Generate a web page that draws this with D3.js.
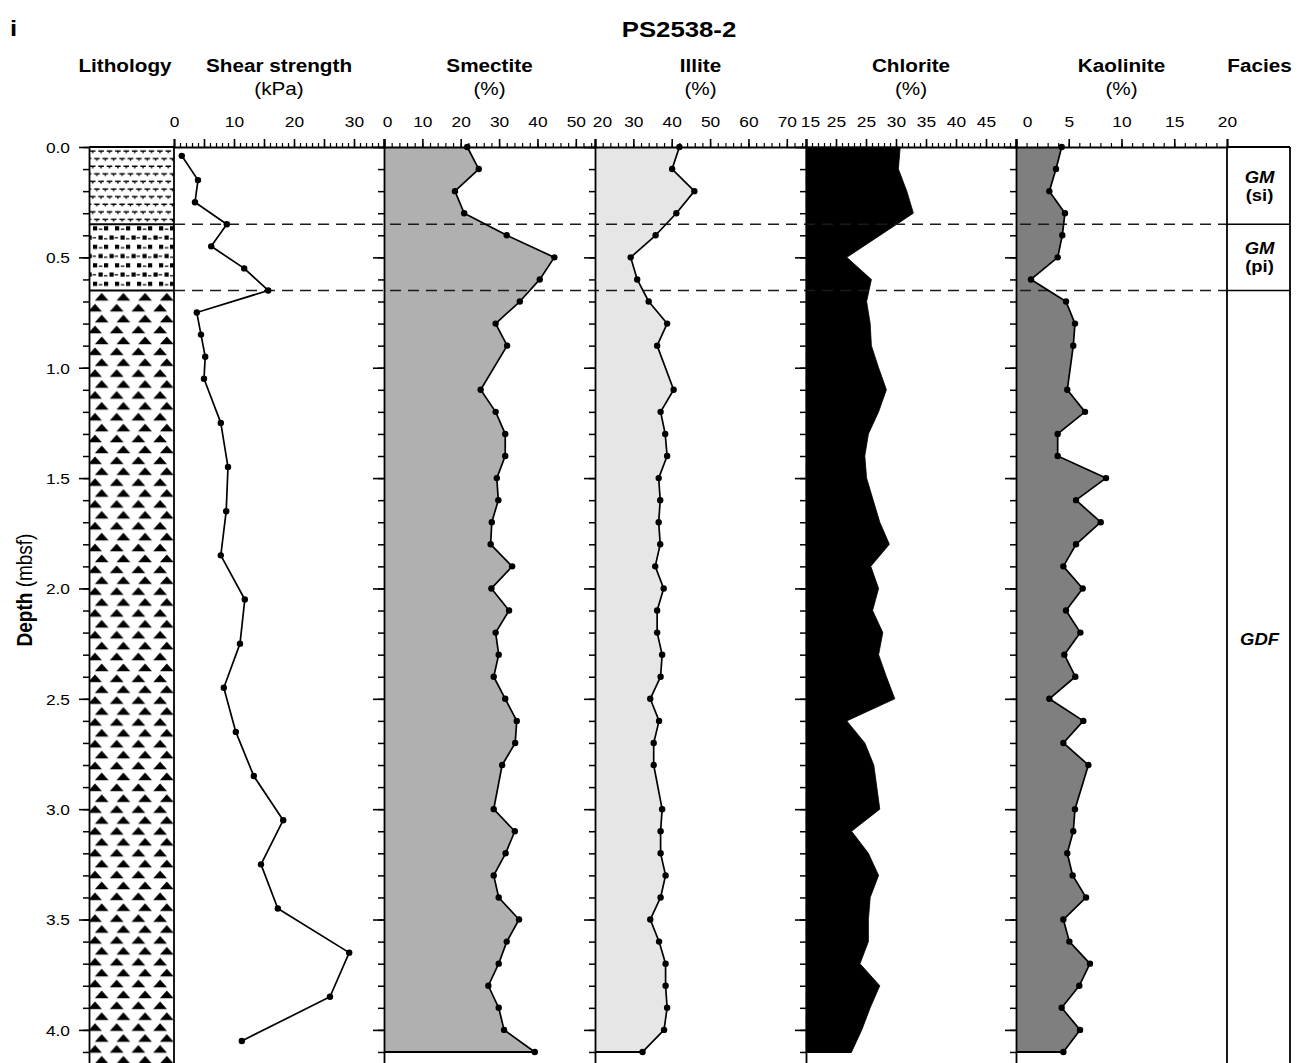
<!DOCTYPE html>
<html><head><meta charset="utf-8">
<script src="https://cdn.jsdelivr.net/npm/d3@7"></script>
<style>
body{margin:0;background:#fff;}
svg{display:block;}
text{font-family:"Liberation Sans",Arial,Helvetica,sans-serif;fill:#000;}
</style></head><body>
<svg id="chart" width="1303" height="1063"></svg>
<script>
// ---------------- DATA ----------------
const figureLetter = "i";
const coreName = "PS2538-2";
const columnTitles = ["Lithology","Shear strength","Smectite","Illite","Chlorite","Kaolinite","Facies"];
const columnUnits  = ["","(kPa)","(%)","(%)","(%)","(%)",""];

const shearDepths = [0.04,0.15,0.25,0.35,0.45,0.55,0.65,0.75,0.85,0.95,1.05,1.25,1.45,1.65,1.85,2.05,2.25,2.45,2.65,2.85,3.05,3.25,3.45,3.65,3.85,4.05];
const shearStrength = [1.3,4.0,3.5,8.8,6.2,11.7,15.7,3.8,4.5,5.2,5.0,7.8,9.0,8.7,7.8,11.8,11.0,8.3,10.3,13.3,18.2,14.5,17.3,29.2,26.0,11.3];

const clayDepths = [0.0,0.1,0.2,0.3,0.4,0.5,0.6,0.7,0.8,0.9,1.1,1.2,1.3,1.4,1.5,1.6,1.7,1.8,1.9,2.0,2.1,2.2,2.3,2.4,2.5,2.6,2.7,2.8,3.0,3.1,3.2,3.3,3.4,3.5,3.6,3.7,3.8,3.9,4.0,4.1];
const smectite = [21.7,24.7,18.5,20.9,32.0,44.4,40.6,35.4,29.1,32.1,25.2,29.1,31.6,31.6,29.4,29.8,28.1,27.8,33.4,28.0,32.6,29.1,29.9,28.6,31.6,34.6,34.2,30.8,28.6,34.1,31.7,28.6,29.9,35.2,32.0,29.9,27.2,29.9,31.3,39.3];
const illite = [42.0,40.1,45.9,41.2,35.8,29.3,31.0,34.0,38.8,36.2,40.5,37.1,38.3,38.8,36.6,37.0,36.6,37.0,35.7,37.9,36.2,36.2,37.5,37.1,34.4,36.7,35.3,35.3,37.5,37.1,37.1,38.4,37.1,34.4,36.7,38.4,38.4,38.8,38.0,32.4];
const kaolinite = [4.33,3.79,3.16,4.64,4.39,3.95,1.42,4.74,5.59,5.43,4.86,6.54,3.95,3.95,8.53,5.69,8.03,5.69,4.49,6.32,4.74,6.10,4.58,5.62,3.16,6.38,4.49,6.86,5.59,5.43,4.86,5.37,6.64,4.49,5.06,7.01,6.00,4.33,6.07,4.49];

const chloriteDepths = [0.0,0.1,0.2,0.3,0.5,0.6,0.7,0.8,0.9,1.0,1.1,1.2,1.3,1.4,1.5,1.6,1.7,1.8,1.9,2.0,2.1,2.2,2.3,2.4,2.5,2.6,2.7,2.8,2.9,3.0,3.1,3.2,3.3,3.4,3.5,3.6,3.7,3.8,3.9,4.0,4.1];
const chlorite = [30.7,30.4,31.8,32.9,21.8,25.9,25.1,25.7,25.9,27.1,28.4,27.1,25.4,24.8,25.1,26.2,27.3,28.9,25.8,27.1,26.1,27.8,27.1,28.4,29.8,21.8,24.8,26.3,26.8,27.3,22.6,25.4,27.1,25.7,25.4,25.4,24.0,27.3,25.7,24.3,22.6];

const shearTickLabels = ["0","10","20","30"];
const shearTickValues = [0,10,20,30];
const smectiteTickLabels = ["0","10","20","30","40","50"];
const smectiteTickValues = [0,10,20,30,40,50];
const illiteTickLabels = ["20","30","40","50","60","70"];
const illiteTickValues = [20,30,40,50,60,70];
const chloriteTickLabels = ["15","25","25","30","35","40","45"];
const chloriteTickValues = [15,20,25,30,35,40,45];
const kaoliniteTickLabels = ["0","5","10","15","20"];
const kaoliniteTickValues = [0,5,10,15,20];
const depthTickValues = [0,0.5,1.0,1.5,2.0,2.5,3.0,3.5,4.0];

const unitBoundaries = [0.35, 0.65];
const lithologyUnits = [
  {top:0.0, bottom:0.35, pattern:"silt"},
  {top:0.35, bottom:0.65, pattern:"pebbly"},
  {top:0.65, bottom:4.15, pattern:"diamict"}
];
const faciesUnits = [
  {top:0.0, bottom:0.35, lines:[["GM","bi"],["(si)","b"]]},
  {top:0.35, bottom:0.65, lines:[["GM","bi"],["(pi)","b"]]},
  {top:0.65, bottom:4.15, lines:[["GDF","bi"]]}
];

// ---------------- LAYOUT ----------------
const SX = 1.12; // horizontal text stretch of the original figure
const svg = d3.select("#chart");
const y = d3.scaleLinear().domain([0, 4.15]).range([147, 1063]);
const yTop = y(0), yBot = y(4.15);
const LITH = [89, 174], FAC = [1227, 1290];

function label(g, x, yy, s, o) {
  o = o || {};
  return g.append("text")
    .attr("transform", `translate(${x},${yy}) scale(${o.sx || SX},1)`)
    .attr("text-anchor", o.anchor || "middle")
    .style("font-size", (o.size || 16) + "px")
    .style("font-weight", o.bold ? "bold" : "normal")
    .style("font-style", o.italic ? "italic" : "normal")
    .text(s);
}

const panels = [
  {name:"shear", range:[174,384], domain:[0,35], minorStep:1, majorStep:5, tickVals:shearTickValues, tickLabels:shearTickLabels, firstDx:0, leftTicks:false,
   depths:shearDepths, values:shearStrength, fill:null, dots:true},
  {name:"smectite", range:[384,595], domain:[0,55], minorStep:2, majorStep:10, tickVals:smectiteTickValues, tickLabels:smectiteTickLabels, firstDx:3, leftTicks:true,
   depths:clayDepths, values:smectite, fill:"#b0b0b0", dots:true},
  {name:"illite", range:[595,806], domain:[20,75], minorStep:2, majorStep:10, tickVals:illiteTickValues, tickLabels:illiteTickLabels, firstDx:7, leftTicks:true,
   depths:clayDepths, values:illite, fill:"#e6e6e6", dots:true},
  {name:"chlorite", range:[806,1016], domain:[15,50], minorStep:1, majorStep:5, tickVals:chloriteTickValues, tickLabels:chloriteTickLabels, firstDx:4, leftTicks:true,
   depths:chloriteDepths, values:chlorite, fill:"#000000", dots:false},
  {name:"kaolinite", range:[1016,1227], domain:[0,20], minorStep:1, majorStep:5, tickVals:kaoliniteTickValues, tickLabels:kaoliniteTickLabels, firstDx:11, leftTicks:true,
   depths:clayDepths, values:kaolinite, fill:"#7f7f7f", dots:true}
];

// ---------------- PATTERNS ----------------
const defs = svg.append("defs");
// silt: small tee marks
const pS = defs.append("pattern").attr("id","silt").attr("patternUnits","userSpaceOnUse")
  .attr("x",LITH[0]).attr("y",yTop).attr("width",8.4).attr("height",15.2);
pS.append("path").attr("stroke","#000").attr("stroke-width",1.4).attr("fill","none")
  .attr("d","M0.9,4h5.6M3.7,4v2.2 M-3.3,11.6h5.6M-0.5,11.6v2.2 M5.1,11.6h5.6M7.9,11.6v2.2");
// pebbly: squares and dashes
const pP = defs.append("pattern").attr("id","pebbly").attr("patternUnits","userSpaceOnUse")
  .attr("x",LITH[0]).attr("y",y(0.35)).attr("width",22).attr("height",18.5);
[[4,2],[15,2],[9.5,11.2],[20.5,11.2],[-1.5,11.2]].forEach(p =>
  pP.append("rect").attr("x",p[0]).attr("y",p[1]).attr("width",4.2).attr("height",4.2).attr("fill","#000"));
pP.append("path").attr("stroke","#000").attr("stroke-width",1.2).attr("fill","none")
  .attr("d","M9.8,5h3.6 M3.5,13.6h3.6 M15,14.4h3.4");
// diamict: triangles
const pD = defs.append("pattern").attr("id","diamict").attr("patternUnits","userSpaceOnUse")
  .attr("x",LITH[0]).attr("y",y(0.65)).attr("width",21.7).attr("height",21.8);
pD.append("path").attr("fill","#000")
  .attr("d","M5.8,10.2L12.7,2.6L19.6,10.2Z M-0.9,21.1L6,13.5L12.9,21.1Z M20.8,21.1L27.7,13.5L34.6,21.1Z");

// ---------------- HEADER ----------------
const head = svg.append("g");
label(head, 10, 36, figureLetter, {bold:true, size:23, anchor:"start"});
label(head, 679, 37, coreName, {bold:true, size:23});
const colCenters = [125].concat(panels.map(p => (p.range[0]+p.range[1])/2)).concat([(FAC[0]+FAC[1])/2 + 1]);
columnTitles.forEach((t,i) => {
  label(head, colCenters[i], 72, t, {bold:true, size:18.5});
  if (columnUnits[i]) label(head, colCenters[i], 95, columnUnits[i], {size:18.5});
});

// ---------------- LITHOLOGY ----------------
const lith = svg.append("g");
lith.selectAll("rect.unit").data(lithologyUnits).enter().append("rect")
  .attr("x", LITH[0]).attr("width", LITH[1]-LITH[0])
  .attr("y", d => y(d.top)).attr("height", d => y(d.bottom)-y(d.top))
  .attr("fill", d => `url(#${d.pattern})`);
lith.selectAll("line.bnd").data(unitBoundaries).enter().append("line")
  .attr("x1", LITH[0]).attr("x2", LITH[1]).attr("y1", d=>y(d)).attr("y2", d=>y(d))
  .attr("stroke","#000").attr("stroke-width",2);
lith.append("line").attr("x1",LITH[0]).attr("x2",LITH[1]).attr("y1",yTop).attr("y2",yTop).attr("stroke","#000").attr("stroke-width",1.8);
lith.append("line").attr("x1",LITH[1]).attr("x2",LITH[1]).attr("y1",yTop).attr("y2",yBot).attr("stroke","#000").attr("stroke-width",1.8);

// ---------------- PANELS ----------------
const fillLayer = svg.append("g");
const dashLayer = svg.append("g");
const lineLayer = svg.append("g");
const axisLayer = svg.append("g");

panels.forEach(p => {
  const x = d3.scaleLinear().domain(p.domain).range(p.range);
  const rows = p.depths.map((d,i) => ({depth:d, v:p.values[i]}));
  if (p.fill) {
    const area = d3.area().y(d => y(d.depth)).x0(x(p.domain[0])).x1(d => x(d.v));
    fillLayer.append("path").datum(rows).attr("d", area).attr("fill", p.fill)
      .attr("stroke", p.fill === "#000000" ? "#000" : "none").attr("stroke-width", 0.8);
    const last = rows[rows.length-1];
    lineLayer.append("path")
      .attr("d", d3.line()([[x(p.domain[0]), y(last.depth)], [x(last.v), y(last.depth)]]))
      .attr("stroke","#000").attr("stroke-width",2).attr("fill","none");
  }
  if (p.dots) {
    lineLayer.append("path").datum(rows)
      .attr("d", d3.line().x(d => x(d.v)).y(d => y(d.depth)))
      .attr("fill","none").attr("stroke","#000").attr("stroke-width",1.7).attr("stroke-linejoin","round");
    lineLayer.selectAll(null).data(rows).enter().append("circle")
      .attr("cx", d => x(d.v)).attr("cy", d => y(d.depth)).attr("r", 3.2).attr("fill","#000");
  }
  // top axis
  const minors = d3.range(p.domain[0], p.domain[1] + 1e-9, p.minorStep);
  const majors = d3.range(p.domain[0], p.domain[1] + 1e-9, p.majorStep);
  const gT = axisLayer.append("g").attr("transform", `translate(0,${yTop})`);
  gT.append("g").call(d3.axisTop(x).tickValues(minors).tickSize(4).tickSizeOuter(0).tickFormat(""))
    .call(g => g.select(".domain").remove())
    .selectAll("line").attr("stroke-width",1.2);
  gT.append("g").call(d3.axisTop(x).tickValues(majors).tickSize(8).tickFormat(""))
    .call(g => g.select(".domain").attr("stroke-width",1.8))
    .selectAll("line").attr("stroke-width",1.6);
  const gL = gT.append("g").call(d3.axisTop(x).tickValues(p.tickVals).tickSize(0).tickPadding(20)
      .tickFormat((d,i) => p.tickLabels[i]))
    .call(g => g.select(".domain").remove());
  gL.selectAll("text")
    .attr("transform", (d,i) => `translate(${i===0 ? p.firstDx : 0},0) scale(${SX},1)`)
    .attr("fill","#000").style("font-size","15.5px").attr("font-family",null);
  // left edge with depth ticks
  if (p.leftTicks) {
    const gE = axisLayer.append("g").attr("transform", `translate(${p.range[0]},0)`);
    gE.call(d3.axisLeft(y).tickValues(d3.range(0, 42).map(i => i/10)).tickSize(6).tickSizeOuter(0).tickFormat(""))
      .call(g => g.select(".domain").attr("stroke-width",1.8))
      .selectAll("line").attr("stroke-width",1.5);
    gE.append("g").call(d3.axisLeft(y).tickValues(depthTickValues).tickSize(11).tickFormat(""))
      .call(g => g.select(".domain").remove())
      .selectAll("line").attr("stroke-width",1.6);
  }
});

// facies column
const fac = svg.append("g");
fac.append("line").attr("x1",FAC[0]).attr("x2",FAC[0]).attr("y1",yTop).attr("y2",yBot).attr("stroke","#000").attr("stroke-width",1.8);
fac.append("line").attr("x1",FAC[1]).attr("x2",FAC[1]).attr("y1",yTop).attr("y2",yBot).attr("stroke","#000").attr("stroke-width",1.8);
fac.append("line").attr("x1",FAC[0]).attr("x2",FAC[1]).attr("y1",yTop).attr("y2",yTop).attr("stroke","#000").attr("stroke-width",1.8);
fac.selectAll("line.b").data(unitBoundaries).enter().append("line")
  .attr("x1",FAC[0]).attr("x2",FAC[1]).attr("y1",d=>y(d)).attr("y2",d=>y(d)).attr("stroke","#000").attr("stroke-width",1.6);
const facC = (FAC[0]+FAC[1])/2;
faciesUnits.forEach(u => {
  const mid = u.bottom > 2 ? y(2.2) + 6 : (y(u.top)+y(u.bottom))/2;
  const n = u.lines.length;
  u.lines.forEach((ln,i) => {
    const yy = mid + 6 + (i - (n-1)/2) * 18;
    label(fac, facC + 1, yy, ln[0], {bold:true, italic: ln[1]==="bi", size:16.5});
  });
});

// dashed unit boundaries
dashLayer.selectAll("line").data(unitBoundaries).enter().append("line")
  .attr("x1", LITH[1]).attr("x2", FAC[0]).attr("y1", d=>y(d)).attr("y2", d=>y(d))
  .attr("stroke","#1a1a1a").attr("stroke-width",1.6).attr("stroke-dasharray","11,7");

// left depth axis
const gY = svg.append("g").attr("transform", `translate(${LITH[0]},0)`);
gY.call(d3.axisLeft(y).tickValues(d3.range(0, 42).map(i => i/10)).tickSize(6).tickSizeOuter(0).tickFormat(""))
  .call(g => g.select(".domain").attr("stroke-width",1.8))
  .selectAll("line").attr("stroke-width",1.5);
const gYm = gY.append("g").call(d3.axisLeft(y).tickValues(depthTickValues).tickSize(10).tickPadding(9).tickFormat(d3.format(".1f")))
  .call(g => g.select(".domain").remove());
gYm.selectAll("line").attr("stroke-width",1.6);
gYm.selectAll("text").attr("x", null).attr("dy","0.35em")
  .attr("transform", `translate(-19,0) scale(${SX},1)`).style("font-size","15.5px").attr("font-family",null);

// y title
const yt = svg.append("text").attr("transform", `translate(32,590) rotate(-90) scale(1,${SX})`)
  .attr("text-anchor","middle").style("font-size","19px");
yt.append("tspan").style("font-weight","bold").text("Depth");
yt.append("tspan").text(" (mbsf)");
</script>
</body></html>
